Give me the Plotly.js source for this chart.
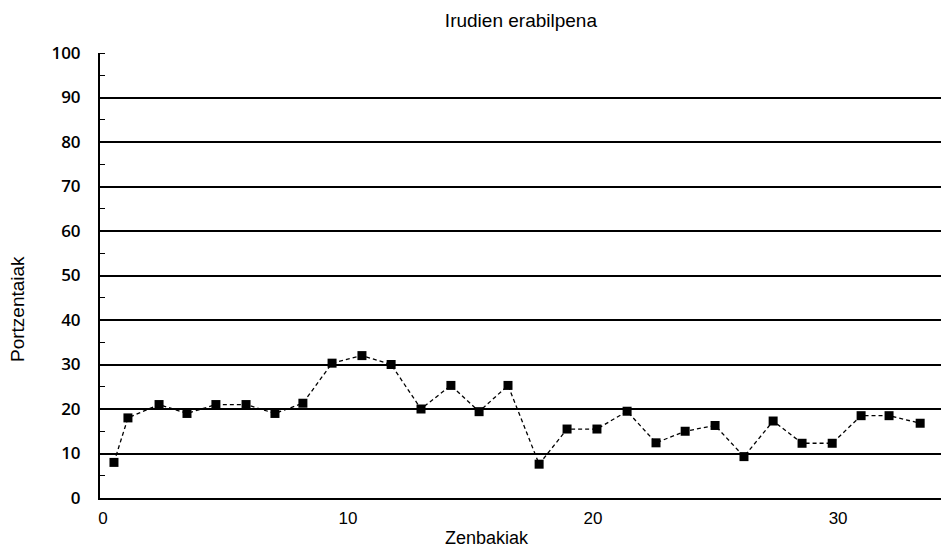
<!DOCTYPE html>
<html>
<head>
<meta charset="utf-8">
<script src="https://cdn.plot.ly/plotly-3.0.1.min.js"></script>
<style>html,body{margin:0;padding:0;background:#fff;}#chart{width:942px;height:549px;}</style>
</head>
<body>
<div id="chart"></div>
<script>
var titleText = "Irudien erabilpena";
var xTitle = "Zenbakiak";
var yTitle = "Portzentaiak";
var xValues = [0.45, 1.02, 2.29, 3.43, 4.61, 5.84, 7.02, 8.16, 9.35, 10.57, 11.76, 12.98, 14.2, 15.35, 16.53, 17.8, 18.94, 20.16, 21.39, 22.57, 23.76, 24.98, 26.16, 27.35, 28.53, 29.76, 30.94, 32.08, 33.35];
var yValues = [8, 18, 21, 19, 21, 21, 19, 21.3, 30.3, 32, 30, 20, 25.3, 19.4, 25.3, 7.6, 15.5, 15.5, 19.5, 12.4, 15, 16.3, 9.3, 17.3, 12.3, 12.3, 18.5, 18.5, 16.8];
var xTickVals = [0, 10, 20, 30];
var yTickVals = [0, 10, 20, 30, 40, 50, 60, 70, 80, 90, 100];

var trace = {
  x: xValues,
  y: yValues,
  type: 'scatter',
  mode: 'lines+markers',
  line: {color: '#000', width: 1.3, dash: '4px,3px'},
  marker: {symbol: 'square', size: 9, color: '#000'},
  showlegend: false,
  hoverinfo: 'x+y'
};

var layout = {
  width: 942,
  height: 549,
  margin: {l: 100, r: 1, t: 53, b: 51},
  paper_bgcolor: '#fff',
  plot_bgcolor: '#fff',
  font: {family: 'Liberation Sans, Arial, sans-serif', color: '#000'},
  title: {
    text: titleText,
    font: {size: 19, family: 'Liberation Sans, Arial, sans-serif', color: '#000'},
    x: 0.553, xanchor: 'center',
    y: 1 - 20/549, yref: 'container', yanchor: 'middle'
  },
  xaxis: {
    range: [-0.12, 34.2],
    tickvals: xTickVals,
    ticktext: xTickVals.map(String),
    ticks: '',
    showgrid: false,
    zeroline: false,
    showline: true,
    linecolor: '#000',
    linewidth: 2,
    tickfont: {size: 17, family: 'Liberation Sans, Arial, sans-serif', color: '#000'},
    ticklabelstandoff: 4
  },
  yaxis: {
    range: [0, 100],
    tickvals: yTickVals,
    ticktext: yTickVals.map(String),
    ticks: '',
    showgrid: true,
    gridcolor: '#000',
    gridwidth: 2,
    zeroline: false,
    showline: true,
    linecolor: '#000',
    linewidth: 2,
    minor: {dtick: 5, tick0: 5, ticks: 'inside', ticklen: 5, tickcolor: '#000', tickwidth: 1, showgrid: false},
    tickfont: {size: 17, family: 'Open Sans, Liberation Sans, sans-serif', weight: 600, color: '#000'},
    ticklabelstandoff: 14
  },
  annotations: [
    {
      text: xTitle, xref: 'paper', yref: 'paper',
      x: (487 - 100) / 841, y: (498 - 538) / 445,
      xanchor: 'center', yanchor: 'middle', showarrow: false,
      font: {size: 18, family: 'Liberation Sans, Arial, sans-serif', color: '#000'}
    },
    {
      text: yTitle, xref: 'paper', yref: 'paper',
      x: (17 - 100) / 841, y: (498 - 309) / 445,
      xanchor: 'center', yanchor: 'middle', showarrow: false, textangle: -90,
      font: {size: 19, family: 'Liberation Sans, Arial, sans-serif', color: '#000'}
    }
  ]
};

Plotly.newPlot('chart', [trace], layout, {displayModeBar: false, staticPlot: true});
</script>
</body>
</html>
